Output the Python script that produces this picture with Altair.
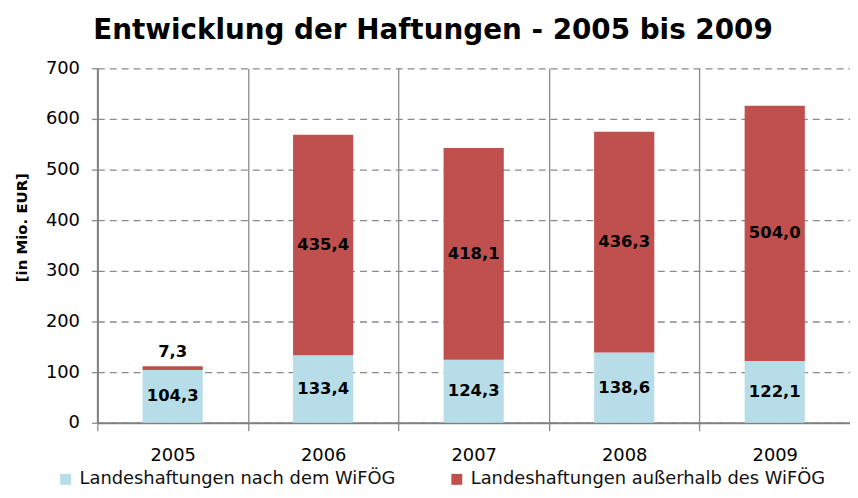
import altair as alt
import pandas as pd

# ---- data ----
years = ["2005", "2006", "2007", "2008", "2009"]
series = ["Landeshaftungen nach dem WiFÖG", "Landeshaftungen außerhalb des WiFÖG"]
inside_wifoeg = [104.3, 133.4, 124.3, 138.6, 122.1]
outside_wifoeg = [7.3, 435.4, 418.1, 436.3, 504.0]
y_ticks = [0, 100, 200, 300, 400, 500, 600, 700]
colors = ["#b7dee8", "#c0504d"]

rows = []
for i, yr in enumerate(years):
    base = 0.0
    for k, vals in enumerate([inside_wifoeg, outside_wifoeg]):
        v = vals[i]
        rows.append(dict(
            year=yr, series=series[k], order=k,
            start=base, end=base + v, mid=base + v / 2,
            label=f"{v:.1f}".replace(".", ","), small=bool(v < 30),
        ))
        base += v
df = pd.DataFrame(rows)

FONT = "DejaVu Sans"
GRID = "#8a8a8a"

hide_last = {"condition": {"test": f"datum.value === '{years[-1]}'", "value": 0}, "value": 1}

x_axis = alt.Axis(
    title=None, labelAngle=0, labelFontSize=18, labelColor="#000", labelPadding=16,
    tickBand="extent", ticks=True, tickSize=8, tickColor=GRID, tickWidth=1.3,
    tickOpacity=hide_last,
    domainColor="#808080", domainWidth=2,
    grid=True, gridColor=GRID, gridWidth=1.3, gridOpacity=hide_last,
)
y_axis = alt.Axis(
    values=y_ticks, title="[in Mio. EUR]", titleFontSize=15, titleFontWeight="bold",
    titleColor="#000", titleX=-76, titleY=160, titleAngle=270, titleAlign="center",
    titleBaseline="middle", labelFontSize=18, labelColor="#000", labelPadding=12,
    tickSize=6, tickColor=GRID, tickWidth=1.3, domainColor="#808080", domainWidth=2,
    grid=True, gridColor=GRID, gridWidth=1.3, gridDash=[7, 5],
)

x_enc = alt.X("year:N", scale=alt.Scale(domain=years, paddingInner=0, paddingOuter=0), axis=x_axis)
y_scale = alt.Scale(domain=[0, 700], nice=False)

base = alt.Chart(df)

bars = base.mark_bar(width=alt.RelativeBandSize(0.4)).encode(
    x=x_enc,
    y=alt.Y("end:Q", scale=y_scale, axis=y_axis),
    y2="start:Q",
    color=alt.Color(
        "series:N",
        scale=alt.Scale(domain=series, range=colors),
        legend=alt.Legend(
            orient="none", legendX=-41, legendY=405, direction="horizontal",
            title=None, symbolType="square", symbolSize=121, symbolStrokeWidth=0,
            labelFontSize=18, labelFont=FONT, labelColor="#111", columnPadding=52,
            labelOffset=5, padding=0, labelLimit=0,
        ),
    ),
)

labels_in = base.transform_filter("!datum.small").mark_text(
    font=FONT, fontSize=16.5, fontWeight="bold", color="#000", baseline="middle"
).encode(
    x=x_enc,
    y=alt.Y("mid:Q", scale=y_scale, axis=y_axis),
    text="label:N",
)

labels_top = base.transform_filter("datum.small").mark_text(
    font=FONT, fontSize=16.5, fontWeight="bold", color="#000", baseline="middle", dy=-14
).encode(
    x=x_enc,
    y=alt.Y("end:Q", scale=y_scale, axis=y_axis),
    text="label:N",
)

chart = alt.layer(bars, labels_in, labels_top).properties(
    width=758,
    height=357,
    autosize=alt.AutoSizeParams(type="none"),
    padding={"left": 90, "top": 59, "right": 0, "bottom": 66},
    title=alt.Title(
        "Entwicklung der Haftungen - 2005 bis 2009",
        font=FONT, fontSize=28, fontWeight="bold", color="#000",
        anchor="middle", dx=-41, offset=30, dy=37, baseline="alphabetic",
    ),
).configure_view(stroke=None).configure_axis(labelFont=FONT, titleFont=FONT)

chart.save("out.html", embed_options={"renderer": "svg", "actions": False})
